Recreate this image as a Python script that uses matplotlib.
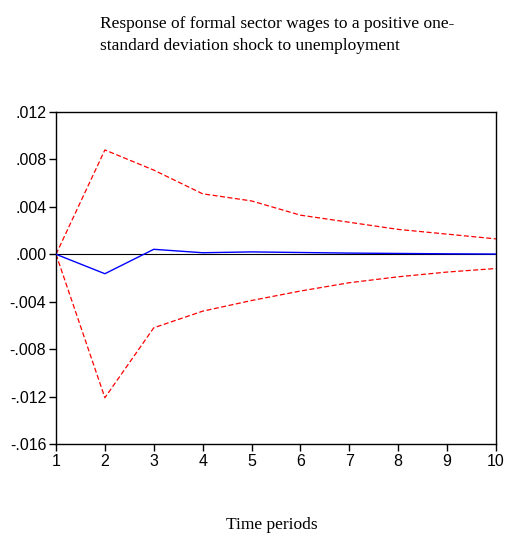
import matplotlib
matplotlib.use("Agg")
import matplotlib.pyplot as plt

plt.rcParams["font.family"] = ["Liberation Sans", "DejaVu Sans"]

periods = [1, 2, 3, 4, 5, 6, 7, 8, 9, 10]
response = [0.0, -0.00164, 0.00042, 0.00013, 0.0002, 0.00015, 0.0001, 0.00007, 0.00004, 0.00002]
upper = [0.0, 0.0088, 0.0071, 0.0051, 0.0045, 0.0033, 0.0027, 0.0021, 0.0017, 0.0013]
lower = [0.0, -0.0121, -0.0062, -0.0048, -0.0039, -0.0031, -0.0024, -0.0019, -0.0015, -0.0012]
yticks = [0.012, 0.008, 0.004, 0.0, -0.004, -0.008, -0.012, -0.016]
ytick_labels = [".012", ".008", ".004", ".000", "-.004", "-.008", "-.012", "-.016"]

fig = plt.figure(figsize=(5.06, 5.40), dpi=100)
ax = fig.add_axes([0.1107, 0.1778, 0.8693, 0.6148])

ax.axhline(0, color="black", lw=0.8, zorder=1)
ax.plot(periods, upper, color="red", lw=0.9, ls=(0, (4, 2)), zorder=2)
ax.plot(periods, lower, color="red", lw=0.9, ls=(0, (4, 2)), zorder=2)
ax.plot(periods, response, color="blue", lw=1.0, zorder=3)

ax.set_xlim(1, 10)
ax.set_ylim(-0.016, 0.012)
ax.set_xticks(periods)
ax.set_yticks(yticks)
ax.set_yticklabels(ytick_labels)
ax.tick_params(direction="out", length=5, width=1, labelsize=11.5,
               top=False, right=False, pad=2)
for sp in ax.spines.values():
    sp.set_linewidth(1.0)

fig.text(0.198, 0.97, "Response of formal sector wages to a positive one-\nstandard deviation shock to unemployment",
         family="Liberation Serif", fontsize=12.5, ha="left", va="top", linespacing=1.45)
fig.text(0.537, 0.028, "Time periods", family="Liberation Serif", fontsize=12.5,
         ha="center", va="center")

fig.savefig("out.png", dpi=100)
